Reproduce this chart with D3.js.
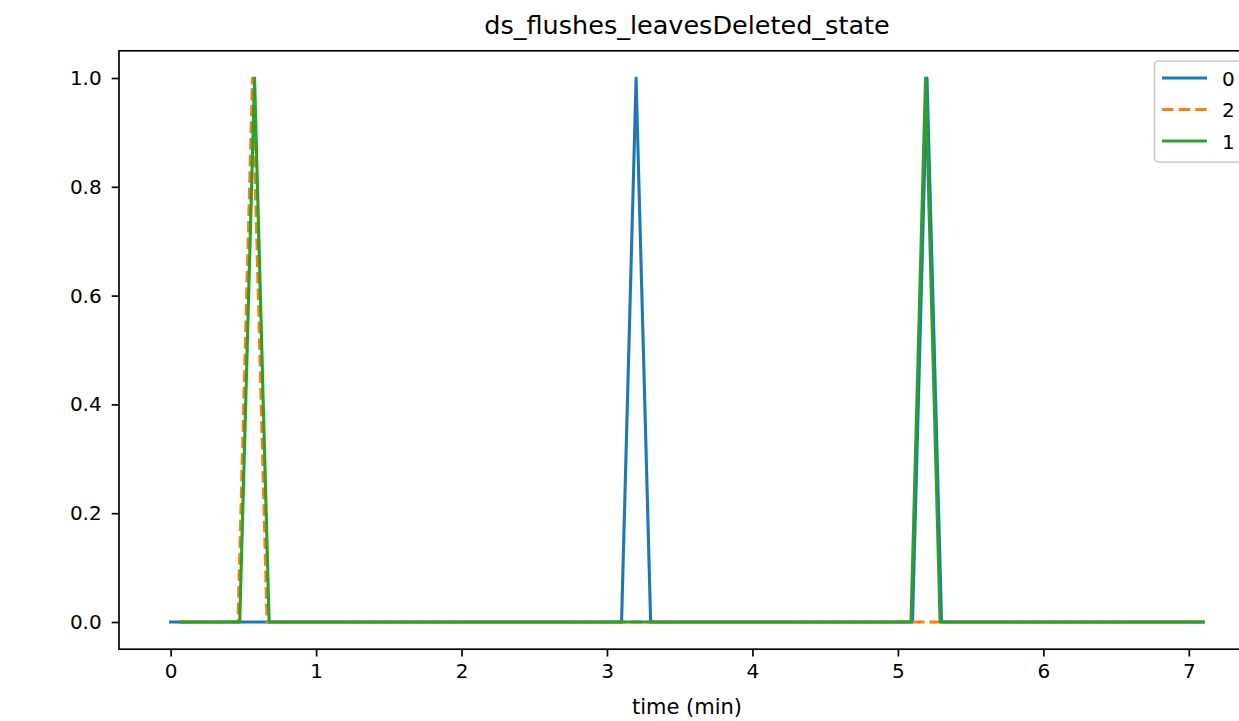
<!DOCTYPE html>
<html><head><meta charset="utf-8">
<script src="https://cdn.jsdelivr.net/npm/d3@7"></script>
<style>body{margin:0;background:#fff;overflow:hidden}svg{display:block}text{font-family:"DejaVu Sans",sans-serif;fill:#000}</style>
</head><body>
<script>
const title = "ds_flushes_leavesDeleted_state";
const xLabel = "time (min)";
const xTicks = [0,1,2,3,4,5,6,7];
const yTicks = [0.0,0.2,0.4,0.6,0.8,1.0];
const seriesNames = ["0","2","1"];
// breakpoints [time, value]
const series0 = [[0,0],[3.1,0],[3.2,1],[3.3,0],[5.1,0],[5.2,1],[5.3,0],[7.1,0]];
const series2 = [[0.06,0],[0.463,0],[0.563,1],[0.663,0],[7.06,0]];
const series1 = [[0.07,0],[0.475,0],[0.577,1],[0.677,0],[5.09,0],[5.19,1],[5.29,0],[7.096,0]];
const colors = ["#1f77b4","#ff7f0e","#2ca02c"];

const W=1239,H=721;
const L=119,R=1255,T=50.8,B=649.2;
const svg=d3.select("body").append("svg").attr("width",W).attr("height",H);
const x=d3.scaleLinear().domain([-0.355,7.455]).range([L,R]);
const y=d3.scaleLinear().domain([-0.05,1.05]).range([B,T]);

svg.append("text").attr("x",(L+R)/2).attr("y",34).attr("text-anchor","middle").style("font-size","25.5px").text(title);

const line=d3.line().x(d=>x(d[0])).y(d=>y(d[1]));
const data=[series0,series2,series1];
data.forEach((s,i)=>{
  svg.append("path").datum(s).attr("d",line).attr("fill","none").attr("stroke",colors[i])
    .attr("stroke-width",3.1).attr("stroke-linejoin","round").attr("stroke-linecap",i==1?"butt":"square")
    .attr("stroke-dasharray",i==1?"11.6,5":null);
});

const xa=svg.append("g").attr("transform",`translate(0,${B})`).call(d3.axisBottom(x).tickValues(xTicks).tickSize(7.3).tickPadding(7).tickFormat(d3.format("d")));
const ya=svg.append("g").attr("transform",`translate(${L},0)`).call(d3.axisLeft(y).tickValues(yTicks).tickSize(7.3).tickPadding(10).tickFormat(d3.format(".1f")));
[xa,ya].forEach(a=>{a.select(".domain").remove();a.selectAll("line").attr("stroke","#000").attr("stroke-width",1.7);a.selectAll("text").style("font-size","20px").attr("fill","#000").style("font-family","DejaVu Sans");});
svg.append("rect").attr("x",L).attr("y",T).attr("width",R-L).attr("height",B-T).attr("fill","none").attr("stroke","#000").attr("stroke-width",1.7);

svg.append("text").attr("x",(L+R)/2).attr("y",714).attr("text-anchor","middle").style("font-size","21px").text(xLabel);

// legend
const lg=svg.append("g");
lg.append("rect").attr("x",1154.5).attr("y",61).attr("width",120).attr("height",101).attr("rx",4)
  .attr("fill","#fff").attr("fill-opacity",0.8).attr("stroke","#ccc").attr("stroke-width",1.7);
seriesNames.forEach((n,i)=>{
  const yy=78+i*31.5;
  lg.append("line").attr("x1",1162).attr("x2",1207).attr("y1",yy).attr("y2",yy).attr("stroke",colors[i]).attr("stroke-width",3.1)
    .attr("stroke-dasharray",i==1?"11.6,5":null);
  lg.append("text").attr("x",1222).attr("y",yy+7.5).style("font-size","20px").text(n);
});
</script>
</body></html>
